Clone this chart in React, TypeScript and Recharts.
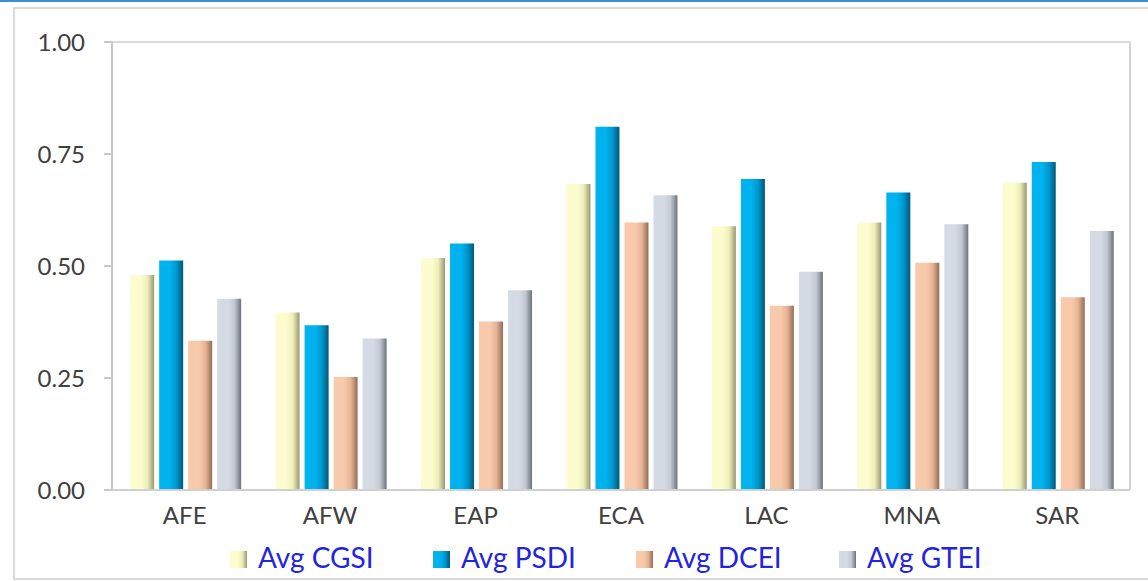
import React from 'react';
import { BarChart, Bar, XAxis, YAxis, CartesianGrid, Legend } from 'recharts';

const categories = ['AFE', 'AFW', 'EAP', 'ECA', 'LAC', 'MNA', 'SAR'];
const cgsi = [0.48, 0.396, 0.518, 0.683, 0.589, 0.597, 0.686];
const psdi = [0.512, 0.368, 0.55, 0.811, 0.694, 0.664, 0.732];
const dcei = [0.333, 0.252, 0.376, 0.597, 0.411, 0.507, 0.43];
const gtei = [0.427, 0.338, 0.446, 0.658, 0.487, 0.593, 0.578];
const yTicks = [0, 0.25, 0.5, 0.75, 1];

const seriesList = [
  { key: 'cgsi', name: 'Avg CGSI', light: '#fcfcce', mid: '#eeeeba', dark: '#9a9872' },
  { key: 'psdi', name: 'Avg PSDI', light: '#00b2ee', mid: '#0096cc', dark: '#00587a' },
  { key: 'dcei', name: 'Avg DCEI', light: '#f8caab', mid: '#e6b494', dark: '#946c55' },
  { key: 'gtei', name: 'Avg GTEI', light: '#d5dbe5', mid: '#c3c9d3', dark: '#6e727a' },
];

const data = categories.map((name, i) => ({
  name,
  cgsi: cgsi[i],
  psdi: psdi[i],
  dcei: dcei[i],
  gtei: gtei[i],
}));

const FONT = 'Lato, "Open Sans", sans-serif';

function Gradient({ id, light, mid, dark }: { id: string; light: string; mid: string; dark: string }) {
  return (
    <linearGradient id={id} x1="0" y1="0" x2="1" y2="0">
      <stop offset="0%" stopColor={light} />
      <stop offset="45%" stopColor={light} />
      <stop offset="72%" stopColor={mid} />
      <stop offset="100%" stopColor={dark} />
    </linearGradient>
  );
}

function LegendContent() {
  return (
    <div style={{ display: 'flex', fontFamily: FONT }}>
      {seriesList.map((s) => (
        <div key={s.key} style={{ width: 203, display: 'flex', alignItems: 'center' }}>
          <svg width={17} height={17} style={{ marginRight: 11, marginTop: 4 }}>
            <defs>
              <Gradient id={`lg-${s.key}`} light={s.light} mid={s.mid} dark={s.dark} />
            </defs>
            <rect x={0} y={0} width={17} height={17} fill={`url(#lg-${s.key})`} />
          </svg>
          <span style={{ color: '#2424e0', fontSize: 28, lineHeight: '32px' }}>{s.name}</span>
        </div>
      ))}
    </div>
  );
}

export default function App() {
  return (
    <div
      style={{
        position: 'absolute',
        left: 0,
        top: 0,
        width: 1148,
        height: 581,
        overflow: 'hidden',
        background: '#ffffff',
      }}
    >
      <div style={{ position: 'absolute', left: 0, top: 0, width: 1148, height: 2, background: '#3b8fd0' }} />
      <div
        style={{
          position: 'absolute',
          left: 13,
          top: 7,
          width: 1200,
          height: 569,
          border: '2px solid #dadada',
        }}
      />
      <div style={{ position: 'absolute', left: 0, top: 0 }}>
        <BarChart
          width={1148}
          height={581}
          data={data}
          margin={{ top: 42, right: 17, bottom: 61, left: 0 }}
          barCategoryGap="12.5%"
          barGap={5}
        >
          <defs>
            {seriesList.map((s) => (
              <Gradient key={s.key} id={`bar-${s.key}`} light={s.light} mid={s.mid} dark={s.dark} />
            ))}
          </defs>
          <CartesianGrid vertical={false} stroke="#d9d9d9" strokeWidth={2} />
          <XAxis
            dataKey="name"
            height={30}
            tickLine={false}
            tickMargin={11}
            axisLine={{ stroke: '#d0d0d0', strokeWidth: 2 }}
            tick={{ fill: '#404040', fontSize: 24, fontFamily: FONT }}
          />
          <YAxis
            yAxisId="left"
            width={112}
            domain={[0, 1]}
            ticks={yTicks}
            tickFormatter={(v: number) => v.toFixed(2)}
            tickSize={8}
            tickMargin={19}
            tickLine={{ stroke: '#c8c8c8', strokeWidth: 2 }}
            axisLine={{ stroke: '#c8c8c8', strokeWidth: 2 }}
            tick={{ fill: '#404040', fontSize: 24, fontFamily: FONT }}
          />
          <YAxis
            yAxisId="right"
            orientation="right"
            width={1}
            domain={[0, 1]}
            tick={false}
            tickLine={false}
            axisLine={{ stroke: '#d4d4d4', strokeWidth: 2 }}
          />
          <Legend
            verticalAlign="middle"
            align="center"
            content={<LegendContent />}
            wrapperStyle={{ top: 541, left: 230, width: 820 }}
          />
          {seriesList.map((s) => (
            <Bar
              key={s.key}
              yAxisId="left"
              dataKey={s.key}
              name={s.name}
              fill={`url(#bar-${s.key})`}
              isAnimationActive={false}
            />
          ))}
        </BarChart>
      </div>
    </div>
  );
}
